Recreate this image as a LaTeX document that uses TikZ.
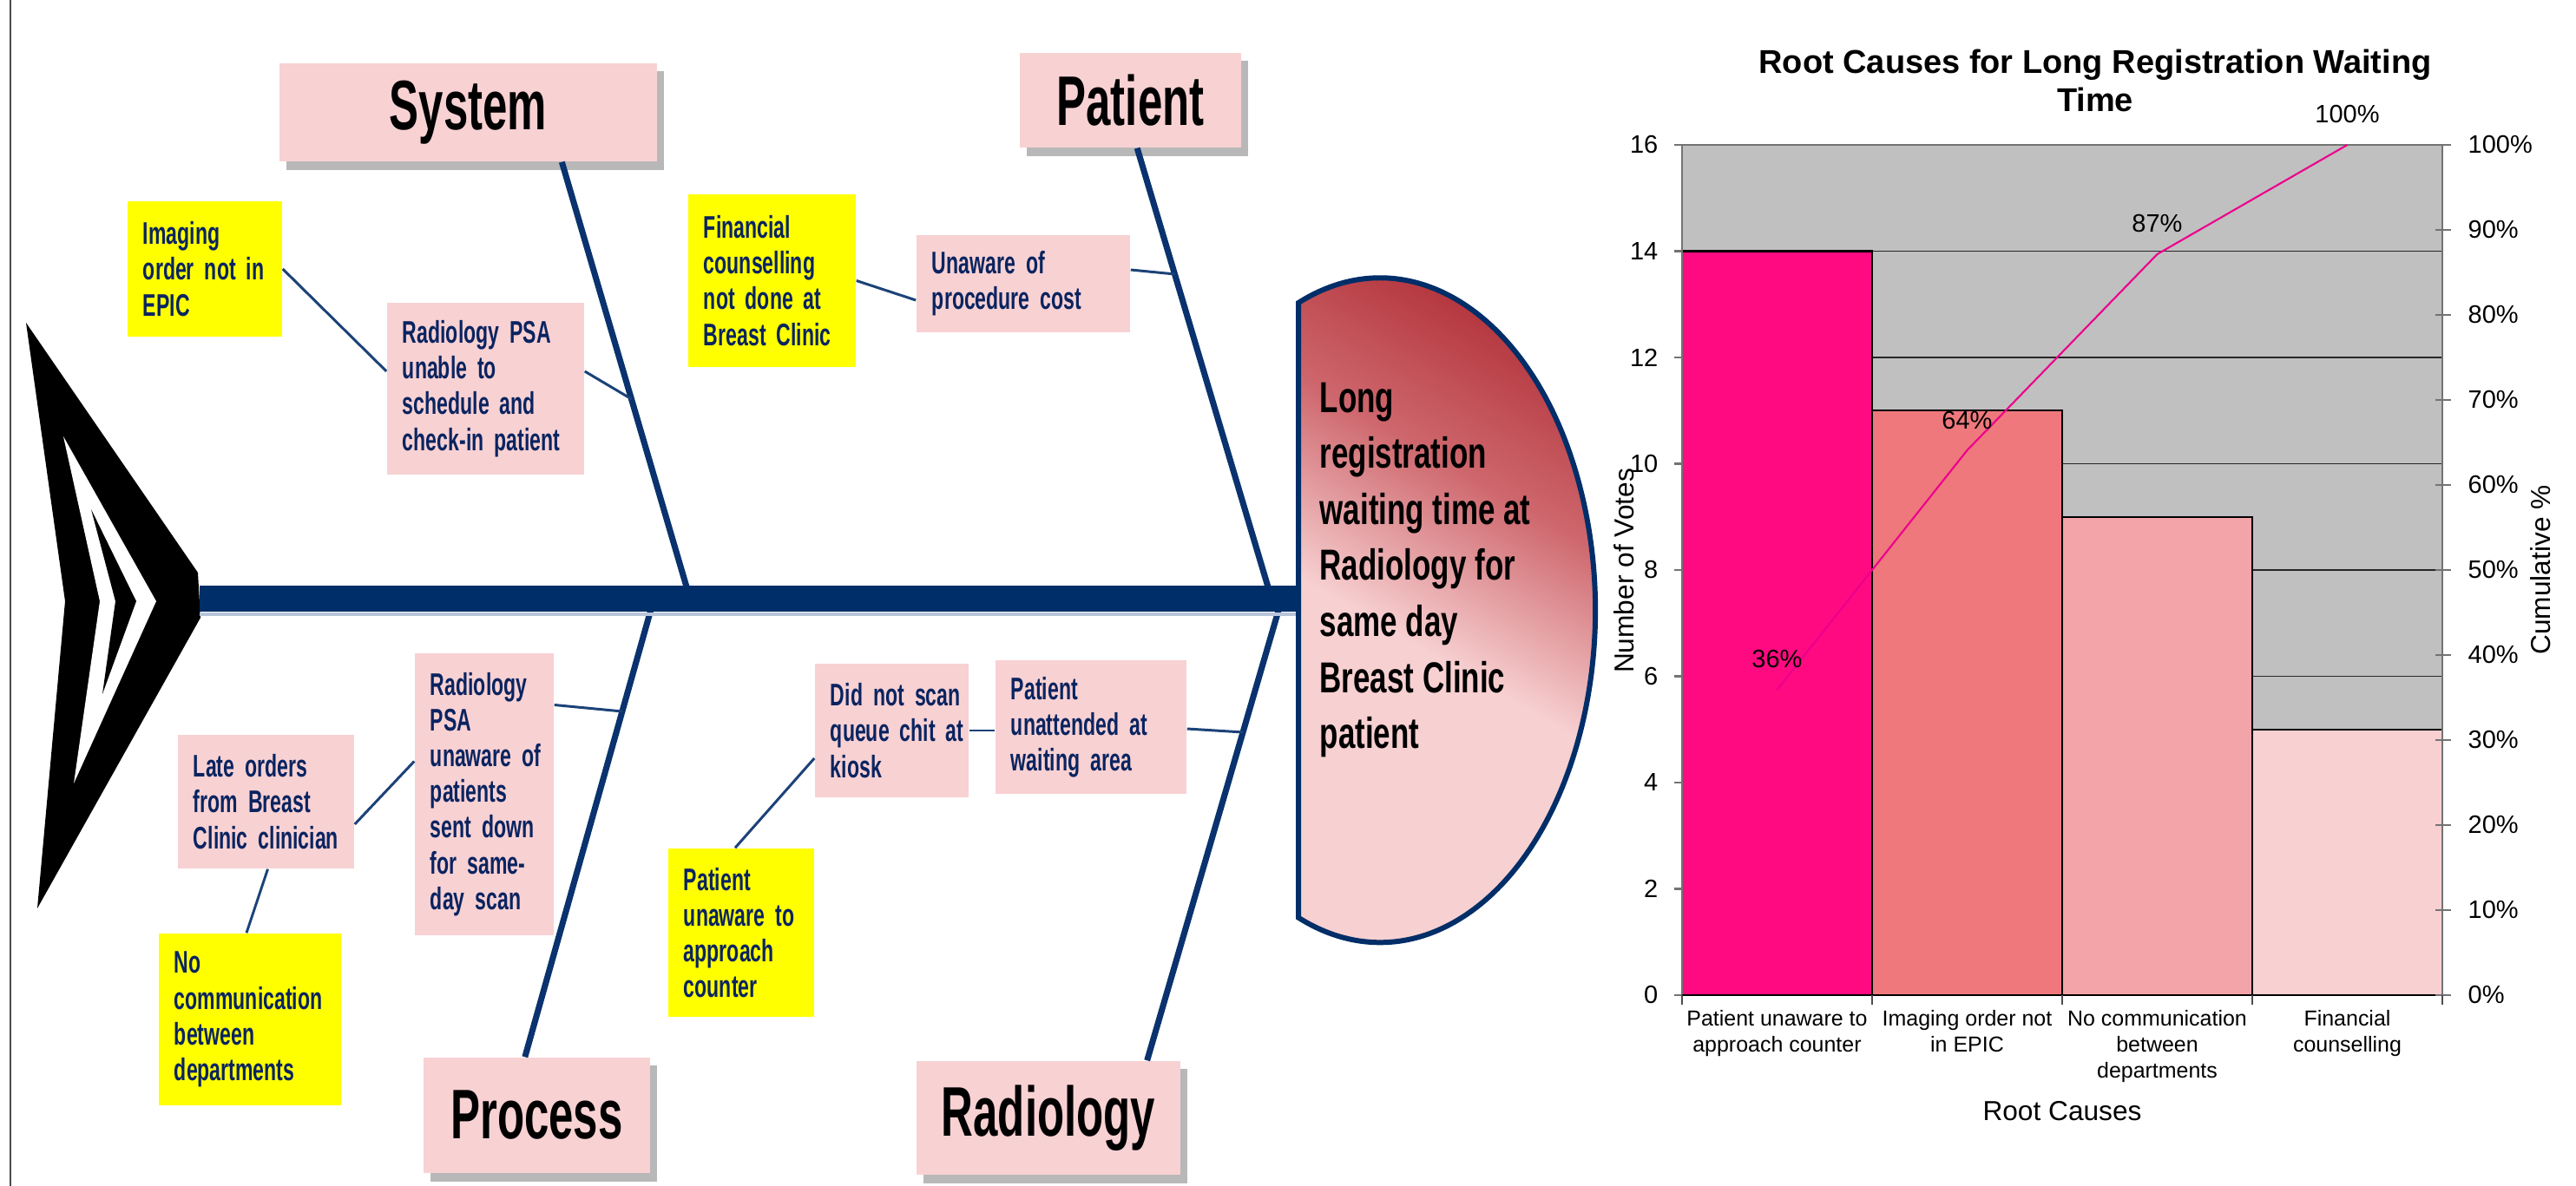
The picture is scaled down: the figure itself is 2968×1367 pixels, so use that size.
\documentclass[tikz,border=0pt]{standalone}
\usepackage{fontspec}
\setmainfont{Liberation Sans}
\newfontfamily\fbfont[FakeStretch=0.63]{Liberation Sans}
\newfontfamily\smfont[FakeStretch=0.64]{Liberation Sans}
\newfontfamily\hdfont[FakeStretch=0.70]{Liberation Sans}
\usetikzlibrary{calc,shadows}
\hyphenpenalty=10000
\exhyphenpenalty=10000
\definecolor{navy}{RGB}{0,46,104}
\definecolor{bonecol}{RGB}{10,50,110}
\definecolor{twigcol}{RGB}{28,66,120}
\definecolor{txtnavy}{RGB}{10,36,96}
\definecolor{boxpink}{RGB}{248,209,211}
\definecolor{yel}{RGB}{255,255,0}
\definecolor{headdark}{RGB}{166,25,34}
\definecolor{headmid}{RGB}{206,104,110}
\definecolor{headlight}{RGB}{247,208,209}
\definecolor{barA}{RGB}{255,10,128}
\definecolor{barB}{RGB}{238,120,124}
\definecolor{barC}{RGB}{242,164,168}
\definecolor{barD}{RGB}{248,208,210}
\definecolor{plotgray}{RGB}{192,192,192}
\definecolor{spineshadow}{RGB}{184,196,218}
\pgfdeclareverticalshading{headshade}{100bp}{color(0bp)=(headlight); color(25bp)=(headlight); color(44bp)=(headlight); color(59bp)=(headmid); color(80bp)=(headdark); color(100bp)=(headdark)}
\begin{document}
\begin{tikzpicture}[x=0.01cm,y=-0.01cm,
  cat/.style={fill=boxpink, inner sep=0pt, font=\fbfont\bfseries\fontsize{23}{26}\selectfont, text=black,
    drop shadow={shadow xshift=2.2pt, shadow yshift=-2.7pt, fill=black, opacity=0.28}},
  sub/.style={inner xsep=0.18cm, inner ysep=0pt, align=left, text=txtnavy,
    font=\smfont\bfseries\fontsize{10.25}{11.7}\selectfont},
  pinkbox/.style={sub, fill=boxpink},
  yelbox/.style={sub, fill=yel},
  bone/.style={draw=bonecol, line width=2pt},
  twig/.style={draw=twigcol, line width=0.85pt},
  spine/.style={draw=navy, line width=8.8pt},
  barbox/.style={draw=black, line width=0.7pt},
  grid/.style={draw=black!85, line width=0.45pt},
  axisgray/.style={draw=black!55, line width=0.6pt},
  ticklbl/.style={inner sep=0pt, font=\fontsize{8.25}{9.5}\selectfont},
  catlbl/.style={anchor=north, align=center, inner sep=0pt, font=\fontsize{7.1}{8.5}\selectfont},
  axtitle/.style={inner sep=0pt, font=\fontsize{9}{10.5}\selectfont}
]
\useasboundingbox (0,0) rectangle (2968,1367);
\fill[white] (0,0) rectangle (2968,1367);
\draw[line width=0.6pt, black!70] (12,0) -- (12,1367);

% ---------- fish tail ----------
\fill[black] (30,372) -- (228,660) -- (231,712) -- (43,1047) -- (75,693) -- cycle;
\fill[white] (73,503) -- (180,693) -- (85,903) -- (115,693) -- cycle;
\fill[black] (105,587) -- (157,693) -- (118,800) -- (133,693) -- cycle;

% ---------- coordinates ----------
\coordinate (tailend) at (230,690);
\coordinate (headL) at (1497,690);
\coordinate (jsys) at (795,690);
\coordinate (jpat) at (1465,690);
\coordinate (jproc) at (753.5,690);
\coordinate (jrad) at (1477,690);
\coordinate (b1) at (727.7,460);
\coordinate (b2) at (1353.6,316);
\coordinate (b3) at (717,820);
\coordinate (b4) at (1431.8,844);

% ---------- category boxes ----------
\node[cat, minimum width=4.35cm, minimum height=1.13cm] (sys) at (539.5,129.5) {System};
\node[cat, minimum width=2.55cm, minimum height=1.09cm] (pat) at (1302.5,115.5) {Patient};
\node[cat, minimum width=2.61cm, minimum height=1.33cm] (proc) at (618.5,1285.5) {Process};
\node[cat, minimum width=3.04cm, minimum height=1.31cm] (rad) at (1208,1288.5) {Radiology};

% ---------- bones ----------
\draw[bone] ($(sys.south west)!0.747!(sys.south east)$) -- (jsys);
\draw[bone] ($(pat.south west)!0.53!(pat.south east)$) -- (jpat);
\draw[bone] ($(proc.north west)!0.448!(proc.north east)$) -- (jproc);
\draw[bone] ($(rad.north west)!0.872!(rad.north east)$) -- (jrad);

% ---------- spine ----------
\draw[spineshadow, line width=1pt] (230,708) -- (1497,708);
\draw[spine] (tailend) -- (headL);

% ---------- head ----------
\shade[shading=headshade, shading angle=-30, draw=navy, line width=1.7pt]
  (1496,349) arc[start angle=-112.3, end angle=112.3, x radius=248, y radius=383] -- cycle;
\node[anchor=west, align=left, inner sep=0pt, font=\hdfont\bfseries\fontsize{14.2}{18.35}\selectfont] (head) at (1520,657)
  {Long\\registration\\waiting time at\\Radiology for\\same day\\Breast Clinic\\patient};

% ---------- sub-cause boxes ----------
\node[yelbox, text width=1.42cm, minimum height=1.56cm] (img) at (236,310) {Imaging\\order~not~in\\EPIC};
\node[pinkbox, text width=1.91cm, minimum height=1.98cm] (rpsa) at (559.5,448) {Radiology~PSA\\unable~to\\schedule~and\\\mbox{check-in}~patient};
\node[yelbox, text width=1.57cm, minimum height=1.99cm] (fin) at (889.5,323.5) {Financial\\counselling\\not~done~at\\Breast~Clinic};
\node[pinkbox, text width=2.10cm, minimum height=1.12cm] (unaw) at (1179,327) {Unaware~of\\procedure~cost};
\node[pinkbox, text width=1.67cm, minimum height=1.54cm] (late) at (306.5,924) {Late~orders\\from~Breast\\Clinic~clinician};
\node[pinkbox, text width=1.24cm, minimum height=3.25cm] (rpsa2) at (558,915.5) {Radiology\\PSA\\unaware~of\\patients\\sent~down\\for~same-\\day~scan};
\node[yelbox, text width=1.74cm, minimum height=1.98cm] (nocomm) at (288,1175) {No\\communication\\between\\departments};
\node[pinkbox, text width=1.41cm, minimum height=1.54cm] (scan) at (1027.5,842) {Did~not~scan\\queue~chit~at\\kiosk};
\node[pinkbox, text width=1.84cm, minimum height=1.54cm] (unatt) at (1257,838) {Patient\\unattended~at\\waiting~area};
\node[yelbox, text width=1.32cm, minimum height=1.94cm] (punaw) at (854,1075) {Patient\\unaware~to\\approach\\counter};

% ---------- twigs ----------
\draw[twig] (img.east) -- ($(rpsa.west)+(0,-20)$);
\draw[twig] ($(rpsa.east)+(0,-20)$) -- (b1);
\draw[twig] (fin.east) -- ($(unaw.west)+(0,19)$);
\draw[twig] ($(unaw.east)+(0,-16)$) -- (b2);
\draw[twig] ($(late.east)+(0,26)$) -- ($(rpsa2.west)+(0,-38)$);
\draw[twig] ($(rpsa2.east)+(0,-103)$) -- (b3);
\draw[twig] ($(late.south)+(2,0)$) -- ($(nocomm.north)+(-4,0)$);
\draw[twig] (scan.east) -- (scan.east -| unatt.west);
\draw[twig] ($(unatt.east)+(0,2)$) -- (b4);
\draw[twig] ($(scan.west)+(0,32)$) -- ($(punaw.north)+(-7,0)$);

% ---------- chart ----------
\node[align=center, font=\bfseries\fontsize{10.8}{12.5}\selectfont] (title) at (2414,93)
  {Root Causes for Long Registration Waiting\\Time};
\fill[plotgray] (1938,167) rectangle (2814,1147);
\foreach \vv in {2,4,...,16} { \draw[grid] (1938,{1147-\vv*61.25}) -- (2814,{1147-\vv*61.25}); }
\draw[barbox, fill=barA] (1938,1147) rectangle (2157,{1147-14*61.25});
\draw[barbox, fill=barB] (2157,1147) rectangle (2376,{1147-11*61.25});
\draw[barbox, fill=barC] (2376,1147) rectangle (2595,{1147-9*61.25});
\draw[barbox, fill=barD] (2595,1147) rectangle (2814,{1147-5*61.25});
\draw[axisgray] (1938,167) -- (1938,1147);
\draw[axisgray] (2814,167) -- (2814,1147);
\draw[axisgray] (1938,167) -- (2814,167);
\draw[black, line width=0.8pt] (1938,1147) -- (2814,1147);
\foreach \vv in {0,2,...,16} {
  \draw[axisgray] (1929,{1147-\vv*61.25}) -- (1938,{1147-\vv*61.25});
  \node[ticklbl, anchor=east] (yl\vv) at (1911,{1147-\vv*61.25}) {\vv};
}
\foreach \pp in {0,...,10} {
  \pgfmathtruncatemacro\pq{\pp*10}
  \draw[axisgray] (2806,{1147-\pp*98}) -- (2824,{1147-\pp*98});
  \node[ticklbl, anchor=west] (yr\pp) at (2843,{1147-\pp*98}) {\pq\%};
}
\foreach \xx in {1938,2157,2376,2595,2814} { \draw[black!70, line width=0.5pt] (\xx,1147) -- (\xx,1158); }

\coordinate (c1) at (2047.5,795);
\coordinate (c2) at (2266.5,519);
\coordinate (c3) at (2485.5,293);
\coordinate (c4) at (2704.5,167);
\draw[magenta, line width=0.6pt] (c1) -- (c2) -- (c3) -- (c4);
\node[ticklbl] (p1) at ($(c1)+(0,-35)$) {36\%};
\node[ticklbl] (p2) at ($(c2)+(0,-34)$) {64\%};
\node[ticklbl] (p3) at ($(c3)+(0,-35)$) {87\%};
\node[ticklbl] (p4) at ($(c4)+(0,-35)$) {100\%};

\node[catlbl] (x1) at (2047.5,1164) {Patient unaware to\\approach counter};
\node[catlbl] (x2) at (2266.5,1164) {Imaging order not\\in EPIC};
\node[catlbl] (x3) at (2485.5,1164) {No communication\\between\\departments};
\node[catlbl] (x4) at (2704.5,1164) {Financial\\counselling};

\node[axtitle] (xt) at (2376,1281) {Root Causes};
\node[axtitle, rotate=90] (ytl) at (1871,658) {Number of Votes};
\node[axtitle, rotate=90] (ytr) at (2927,657) {Cumulative \%};
\end{tikzpicture}
\end{document}
